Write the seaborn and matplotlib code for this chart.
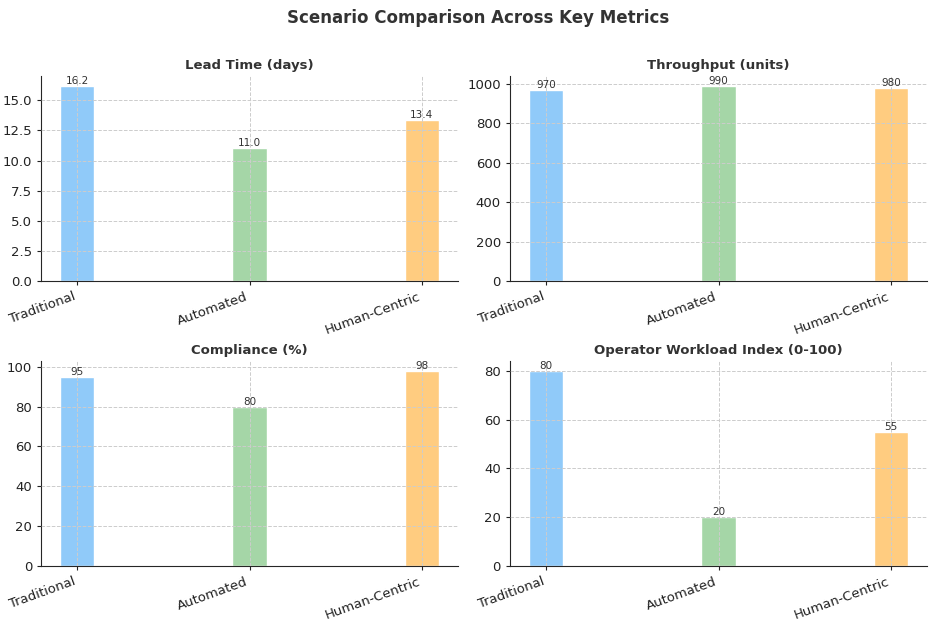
import pandas as pd
import matplotlib.pyplot as plt
import seaborn as sns
from matplotlib.ticker import MultipleLocator

scenarios = ["Traditional", "Automated", "Human-Centric"]
lead_time = [16.2, 11.0, 13.4]
throughput = [970, 990, 980]
compliance = [95, 80, 98]
workload = [80, 20, 55]
titles = ["Lead Time (days)", "Throughput (units)", "Compliance (%)", "Operator Workload Index (0-100)"]
colors = ["#90CAF9", "#A5D6A7", "#FFCC80"]

sns.set_style("white")
plt.rcParams['font.family'] = ['DejaVu Sans']

fig, axes = plt.subplots(2, 2, figsize=(9.33, 6.21), dpi=100)
series = [lead_time, throughput, compliance, workload]
fmts = ["{:.1f}", "{:.0f}", "{:.0f}", "{:.0f}"]
positions = [
    [0.044, 0.5475, 0.447, 0.330],
    [0.5466, 0.5475, 0.447, 0.330],
    [0.044, 0.0886, 0.447, 0.330],
    [0.5466, 0.0886, 0.447, 0.330],
]

for ax, values, title, fmt, pos in zip(axes.flat, series, titles, fmts, positions):
    df = pd.DataFrame({"Scenario": scenarios, "Value": values})
    sns.barplot(data=df, x="Scenario", y="Value", hue="Scenario", palette=colors,
                width=0.2, legend=False, ax=ax, saturation=1)
    for i, v in enumerate(values):
        ax.text(i, v, fmt.format(v), ha="center", va="bottom", fontsize=7.5, color="#333333")
    ax.set_xlim(-0.21, 2.21)
    ax.set_title(title, fontsize=9.5, fontweight="bold", color="#333333", pad=5)
    ax.set_xlabel("")
    ax.set_ylabel("")
    ax.grid(True, linestyle="--", color="#cccccc", linewidth=0.7)
    ax.set_axisbelow(False)
    sns.despine(ax=ax)
    ax.tick_params(axis="both", labelsize=9.5, colors="#222222", length=3, bottom=True, left=True)
    plt.setp(ax.get_xticklabels(), rotation=20, ha="right")
    ax.set_position(pos)

axes[0, 0].yaxis.set_major_locator(MultipleLocator(2.5))

fig.suptitle("Scenario Comparison Across Key Metrics", fontsize=12, fontweight="bold",
             color="#333333", x=0.512, y=0.985)
plt.savefig("out.png", dpi=100)
plt.close("all")
